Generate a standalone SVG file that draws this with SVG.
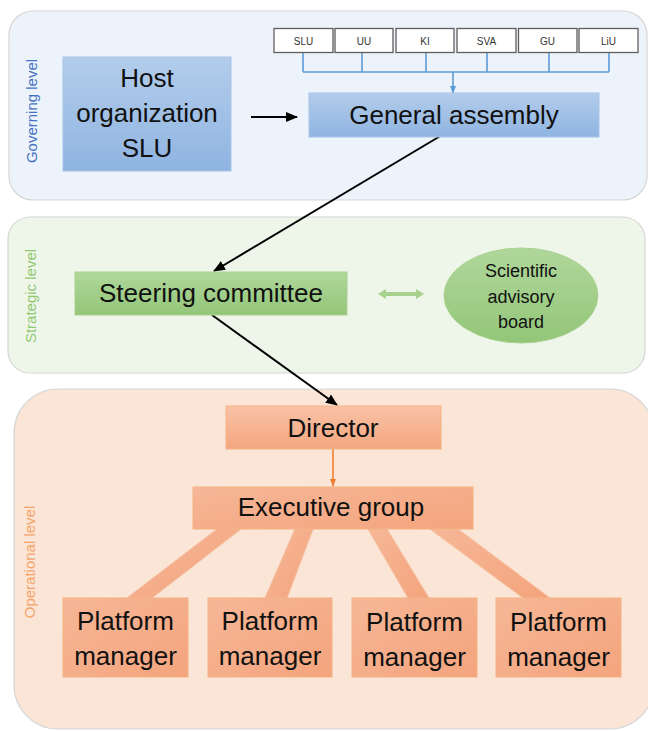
<svg xmlns="http://www.w3.org/2000/svg" width="648" height="731" viewBox="0 0 648 731">
<defs>
<linearGradient id="gBlue" x1="0" y1="0" x2="0" y2="1"><stop offset="0" stop-color="#b3cdeb"/><stop offset="1" stop-color="#8fb4e1"/></linearGradient>
<linearGradient id="gGreen" x1="0" y1="0" x2="0" y2="1"><stop offset="0" stop-color="#b0d79b"/><stop offset="1" stop-color="#93c679"/></linearGradient>
<linearGradient id="gOrange" x1="0" y1="0" x2="0" y2="1"><stop offset="0" stop-color="#f8c2a5"/><stop offset="1" stop-color="#f4a67f"/></linearGradient>
<linearGradient id="gOrange2" x1="0" y1="0" x2="1" y2="1"><stop offset="0" stop-color="#f6b797"/><stop offset="1" stop-color="#f4a47d"/></linearGradient>
<marker id="aBlack" viewBox="0 0 12 10" refX="11" refY="5" markerWidth="12" markerHeight="10" markerUnits="userSpaceOnUse" orient="auto"><path d="M0,0 L12,5 L0,10 Z" fill="#000"/></marker>
<marker id="aBlue" viewBox="0 0 8 6" refX="7" refY="3" markerWidth="8" markerHeight="6" markerUnits="userSpaceOnUse" orient="auto"><path d="M0,0 L8,3 L0,6 Z" fill="#5b9bd5"/></marker>
<marker id="aOrange" viewBox="0 0 8 6" refX="7" refY="3" markerWidth="8" markerHeight="6" markerUnits="userSpaceOnUse" orient="auto"><path d="M0,0 L8,3 L0,6 Z" fill="#ed7d31"/></marker>
</defs>
<style>
text{font-family:"Liberation Sans",Arial,sans-serif;}
.big{font-size:26px;fill:#111;text-anchor:middle;}
.mid{font-size:18px;fill:#111;text-anchor:middle;}
.small{font-size:10px;fill:#333;text-anchor:middle;}
.lvl{font-size:15px;text-anchor:middle;}
.panel{stroke:#d6d6d6;stroke-width:1.2;}
.uni{fill:#fff;stroke:#5f5f5f;stroke-width:1.3;}
.blue{fill:url(#gBlue);stroke:#a8c4e7;stroke-width:1;}
.green{fill:url(#gGreen);stroke:#a9d18e;stroke-width:1;}
.orange{fill:url(#gOrange);stroke:#f4b183;stroke-width:1;}
.orange2{fill:url(#gOrange2);stroke:#f4b183;stroke-width:1;}
.bar{fill:url(#gOrange2);stroke:#f6bd9c;stroke-width:1;}
.blk{stroke:#000;stroke-width:2;fill:none;}
.bl{stroke:#5b9bd5;stroke-width:1.6;fill:none;}
</style>

<g id="panel-governing">
<rect class="panel" x="9" y="11" width="638" height="189" rx="24" fill="#edf3fa"/>
<text class="lvl" fill="#4472c4" transform="translate(37,111) rotate(-90)">Governing level</text>
</g>
<g id="panel-strategic">
<rect class="panel" x="8" y="217" width="637" height="156" rx="22" fill="#eef6ea"/>
<text class="lvl" fill="#92c872" transform="translate(36,296) rotate(-90)">Strategic level</text>
</g>
<g id="panel-operational">
<rect class="panel" x="14" y="389" width="640" height="340" rx="44" fill="#fbe5d6"/>
<text class="lvl" fill="#f4a46b" transform="translate(35,562) rotate(-90)">Operational level</text>
</g>

<g id="connectors">
<line class="blk" x1="251" y1="117" x2="297" y2="117" marker-end="url(#aBlack)"/>
<line class="blk" x1="442" y1="135" x2="214" y2="271" marker-end="url(#aBlack)"/>
<line class="blk" x1="212" y1="315" x2="337" y2="405" marker-end="url(#aBlack)"/>
<path class="bl" d="M303,53 V72 M362,53 V72 M426,53 V72 M487,53 V72 M549,53 V72 M609,53 V72 M303,72 H609"/>
<line class="bl" x1="453" y1="72" x2="453" y2="93" marker-end="url(#aBlue)"/>
<line x1="333" y1="449" x2="333" y2="486" stroke="#ed7d31" stroke-width="1.6" marker-end="url(#aOrange)"/>
<polygon points="378,294 386,289 386,292 416,292 416,289 424,294 416,299 416,296 386,296 386,299" fill="#a9d18e"/>
<polygon class="bar" points="217,529 241,529 152,598 127,598"/>
<polygon class="bar" points="295,529 313,529 287,598 265,598"/>
<polygon class="bar" points="368,529 387,529 429,598 408,598"/>
<polygon class="bar" points="430,529 458,529 550,598 523,598"/>
</g>

<g id="uni-SLU"><rect class="uni" x="274" y="28.5" width="59" height="24"/><text class="small" x="303.5" y="44.5">SLU</text></g>
<g id="uni-UU"><rect class="uni" x="335" y="28.5" width="58" height="24"/><text class="small" x="364" y="44.5">UU</text></g>
<g id="uni-KI"><rect class="uni" x="396" y="28.5" width="58" height="24"/><text class="small" x="425" y="44.5">KI</text></g>
<g id="uni-SVA"><rect class="uni" x="457" y="28.5" width="59" height="24"/><text class="small" x="486.5" y="44.5">SVA</text></g>
<g id="uni-GU"><rect class="uni" x="518.5" y="28.5" width="58.5" height="24"/><text class="small" x="547.5" y="44.5">GU</text></g>
<g id="uni-LiU"><rect class="uni" x="579" y="28.5" width="59" height="24"/><text class="small" x="608.5" y="44.5">LiU</text></g>

<g id="host">
<rect class="blue" x="63" y="57" width="168" height="114"/>
<text class="big" x="147" y="87">Host</text>
<text class="big" x="147" y="122">organization</text>
<text class="big" x="147" y="157">SLU</text>
</g>
<g id="general-assembly">
<rect class="blue" x="309" y="93" width="290" height="44"/>
<text class="big" x="454" y="124">General assembly</text>
</g>
<g id="steering-committee">
<rect class="green" x="75" y="272" width="272" height="43"/>
<text class="big" x="211" y="302">Steering committee</text>
</g>
<g id="scientific-advisory-board">
<ellipse class="green" cx="521" cy="295.5" rx="77" ry="47.5"/>
<text class="mid" x="521" y="277">Scientific</text>
<text class="mid" x="521" y="303">advisory</text>
<text class="mid" x="521" y="328">board</text>
</g>
<g id="director">
<rect class="orange" x="226" y="406" width="215" height="43"/>
<text class="big" x="333" y="437">Director</text>
</g>
<g id="executive-group">
<rect class="orange2" x="193" y="487" width="280" height="42"/>
<text class="big" x="331" y="516">Executive group</text>
</g>
<g id="pm1"><rect class="orange2" x="63" y="598" width="125" height="79"/><text class="big" x="125.5" y="630">Platform</text><text class="big" x="125.5" y="665">manager</text></g>
<g id="pm2"><rect class="orange2" x="208" y="598" width="124" height="79"/><text class="big" x="270" y="630">Platform</text><text class="big" x="270" y="665">manager</text></g>
<g id="pm3"><rect class="orange2" x="352" y="598" width="125" height="79"/><text class="big" x="414.5" y="631">Platform</text><text class="big" x="414.5" y="666">manager</text></g>
<g id="pm4"><rect class="orange2" x="496" y="598" width="125" height="79"/><text class="big" x="558.5" y="631">Platform</text><text class="big" x="558.5" y="666">manager</text></g>
</svg>
